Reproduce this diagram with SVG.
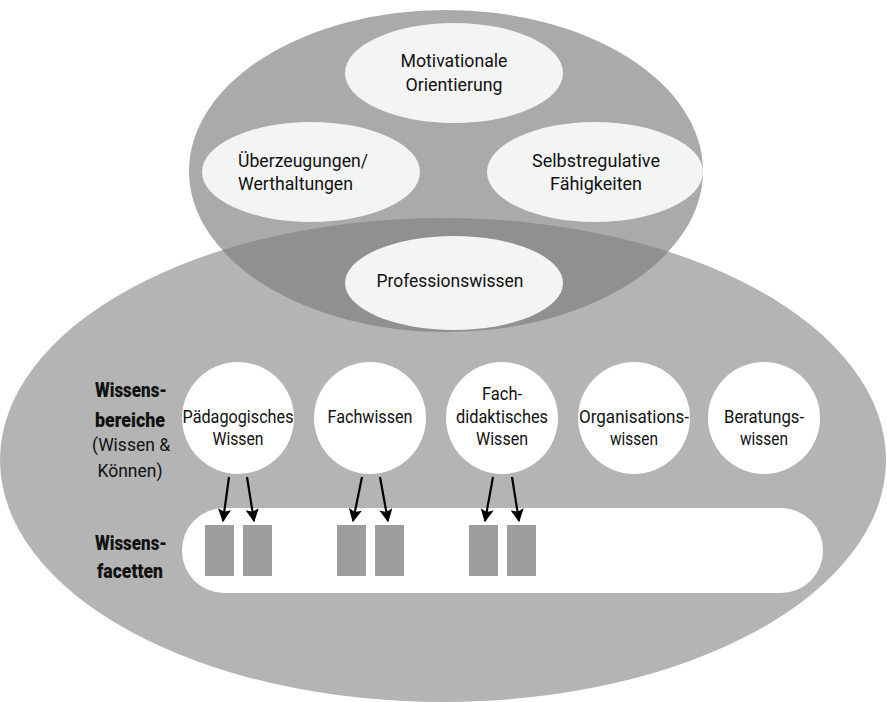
<svg xmlns="http://www.w3.org/2000/svg" width="887" height="702" viewBox="0 0 887 702">
<style>
.t{font-family:Roboto,"Liberation Sans",sans-serif;font-size:18px;fill:#111;text-anchor:middle}
.s{text-anchor:start}
.b{font-family:Roboto,"Liberation Sans",sans-serif;font-size:20px;font-weight:900;fill:#111;text-anchor:middle}
.light{fill:#f3f4f4}
.circ{fill:#ffffff}
.facet{fill:#9c9d9d}
.arr{stroke:#000;stroke-width:2.2;fill:none;marker-end:url(#ah)}
</style>
<defs>
<marker id="ah" viewBox="0 0 10 10" refX="9" refY="5" markerWidth="7" markerHeight="6" markerUnits="strokeWidth" orient="auto">
<path d="M0,0 L10,5 L0,10 L2,5 z" fill="#000"/>
</marker>
<clipPath id="topclip"><ellipse cx="446" cy="171" rx="257" ry="161"/></clipPath>
</defs>
<rect width="887" height="702" fill="#ffffff"/>
<g id="outer-bottom"><ellipse cx="443" cy="460" rx="443" ry="242" fill="#b3b4b3"/></g>
<g id="outer-top"><ellipse cx="446" cy="171" rx="257" ry="161" fill="#a9aaaa"/>
<ellipse cx="443" cy="460" rx="443" ry="242" fill="#8f9090" clip-path="url(#topclip)"/></g>
<g id="motivationale"><ellipse class="light" cx="454" cy="73" rx="109" ry="50"/>
<text class="t" x="454" y="67" textLength="107" lengthAdjust="spacingAndGlyphs">Motivationale</text><text class="t" x="454" y="91" textLength="97" lengthAdjust="spacingAndGlyphs">Orientierung</text></g>
<g id="ueberzeugungen"><ellipse class="light" cx="311" cy="172" rx="109" ry="50"/>
<text class="t s" x="238" y="167" textLength="130" lengthAdjust="spacingAndGlyphs">Überzeugungen/</text><text class="t s" x="238" y="190" textLength="115" lengthAdjust="spacingAndGlyphs">Werthaltungen</text></g>
<g id="selbstregulative"><ellipse class="light" cx="595" cy="172" rx="108" ry="50"/>
<text class="t" x="596" y="167" textLength="128" lengthAdjust="spacingAndGlyphs">Selbstregulative</text><text class="t" x="596" y="190" textLength="92" lengthAdjust="spacingAndGlyphs">Fähigkeiten</text></g>
<g id="professionswissen"><ellipse class="light" cx="454" cy="283" rx="109" ry="47"/>
<text class="t" x="450" y="287" textLength="147" lengthAdjust="spacingAndGlyphs">Professionswissen</text></g>
<g id="label-bereiche">
<text class="b" x="131" y="397" textLength="72" lengthAdjust="spacingAndGlyphs">Wissens-</text>
<text class="b" x="130" y="427" textLength="70" lengthAdjust="spacingAndGlyphs">bereiche</text>
<text class="t" x="131" y="451" textLength="78" lengthAdjust="spacingAndGlyphs">(Wissen &amp;</text>
<text class="t" x="130" y="477" textLength="65" lengthAdjust="spacingAndGlyphs">Können)</text></g>
<g id="label-facetten">
<text class="b" x="131" y="550" textLength="72" lengthAdjust="spacingAndGlyphs">Wissens-</text>
<text class="b" x="130" y="578" textLength="66" lengthAdjust="spacingAndGlyphs">facetten</text></g>
<g id="paedagogisches"><circle class="circ" cx="238" cy="418" r="56"/>
<text class="t" x="238" y="423" textLength="111" lengthAdjust="spacingAndGlyphs">Pädagogisches</text><text class="t" x="238" y="445" textLength="51" lengthAdjust="spacingAndGlyphs">Wissen</text></g>
<g id="fachwissen"><circle class="circ" cx="370" cy="418" r="56"/>
<text class="t" x="370" y="423" textLength="85" lengthAdjust="spacingAndGlyphs">Fachwissen</text></g>
<g id="fachdidaktisches"><circle class="circ" cx="502" cy="418" r="56"/>
<text class="t" x="502" y="400" textLength="40" lengthAdjust="spacingAndGlyphs">Fach-</text><text class="t" x="502" y="423" textLength="92" lengthAdjust="spacingAndGlyphs">didaktisches</text><text class="t" x="502" y="445" textLength="52" lengthAdjust="spacingAndGlyphs">Wissen</text></g>
<g id="organisations"><circle class="circ" cx="634" cy="418" r="56"/>
<text class="t" x="634" y="423" textLength="110" lengthAdjust="spacingAndGlyphs">Organisations-</text><text class="t" x="634" y="445" textLength="48" lengthAdjust="spacingAndGlyphs">wissen</text></g>
<g id="beratungs"><circle class="circ" cx="764" cy="418" r="56"/>
<text class="t" x="764" y="423" textLength="80" lengthAdjust="spacingAndGlyphs">Beratungs-</text><text class="t" x="764" y="445" textLength="48" lengthAdjust="spacingAndGlyphs">wissen</text></g>
<g id="facetten-band"><rect x="182" y="508" width="641" height="85" rx="42" fill="#ffffff"/>
<rect class="facet" x="205" y="525" width="29" height="51"/>
<rect class="facet" x="243" y="525" width="29" height="51"/>
<rect class="facet" x="337" y="525" width="29" height="51"/>
<rect class="facet" x="375" y="525" width="29" height="51"/>
<rect class="facet" x="469" y="525" width="29" height="51"/>
<rect class="facet" x="507" y="525" width="29" height="51"/></g>
<g id="connectors">
<line class="arr" x1="229" y1="477" x2="223" y2="521"/>
<line class="arr" x1="247" y1="477" x2="254" y2="521"/>
<line class="arr" x1="362" y1="477" x2="353" y2="521"/>
<line class="arr" x1="380" y1="477" x2="388" y2="521"/>
<line class="arr" x1="493" y1="477" x2="485" y2="521"/>
<line class="arr" x1="512" y1="477" x2="519" y2="521"/>
</g>
</svg>
